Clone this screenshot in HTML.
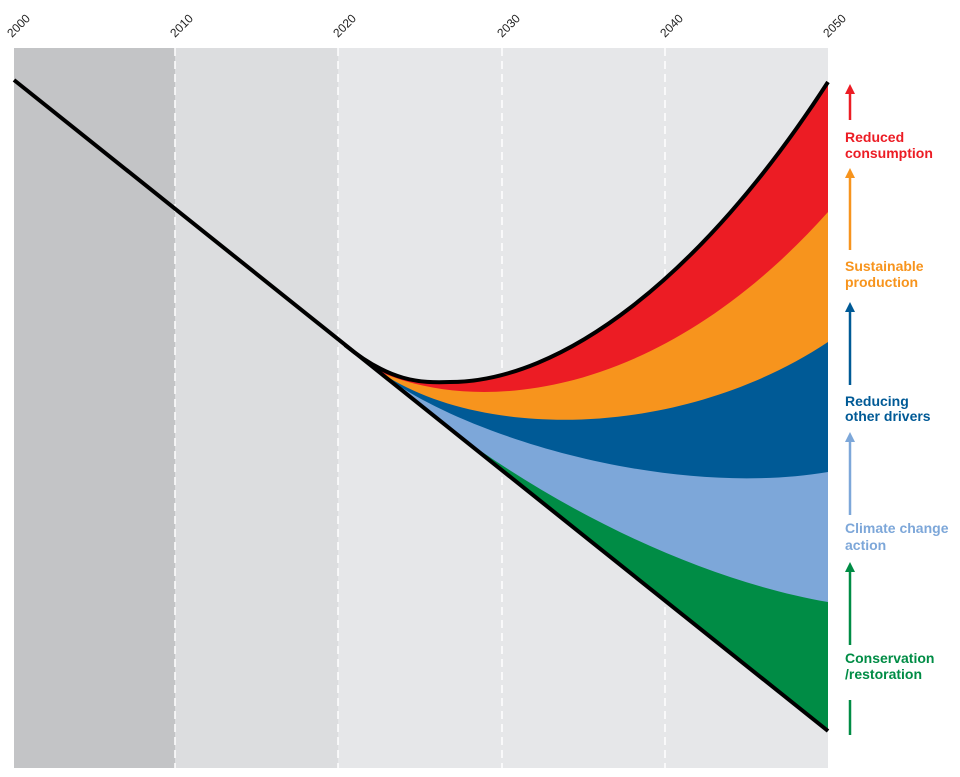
<!DOCTYPE html>
<html><head><style>body{margin:0;background:#fff}svg{display:block}</style></head><body>
<svg width="960" height="777" viewBox="0 0 960 777" font-family="Liberation Sans, sans-serif">
<defs><clipPath id="c"><path d="M345,345 C390,382 420,383 450,382 C560,382 700,280 828,82 L828,731 Z"/></clipPath></defs>
<rect x="14" y="48" width="161" height="720" fill="#c3c4c6"/>
<rect x="175" y="48" width="163" height="720" fill="#dcdddf"/>
<rect x="338" y="48" width="490" height="720" fill="#e6e7e9"/>
<g stroke="#fff" stroke-width="1.5" stroke-dasharray="8,5">
<line x1="175" y1="48" x2="175" y2="768"/><line x1="338" y1="48" x2="338" y2="768"/>
<line x1="502" y1="48" x2="502" y2="768"/><line x1="665" y1="48" x2="665" y2="768"/>
</g>
<g font-size="12" fill="#222">
<text transform="translate(12,38) rotate(-45)">2000</text>
<text transform="translate(175,38) rotate(-45)">2010</text>
<text transform="translate(338,38) rotate(-45)">2020</text>
<text transform="translate(502,38) rotate(-45)">2030</text>
<text transform="translate(665,38) rotate(-45)">2040</text>
<text transform="translate(828,38) rotate(-45)">2050</text>
</g>
<g clip-path="url(#c)">
<path d="M345,345 L828,0 L828,731 Z" fill="#ec1c24"/>
<path d="M380,372 C480,415 660,400 828,212 L828,731 Z" fill="#f7941d"/>
<path d="M380,372 C480,440 680,440 828,342 L828,731 Z" fill="#005a96"/>
<path d="M380,372 C450,430 660,500 828,472 L828,731 Z" fill="#7da7d9"/>
<path d="M457,434 C560,510 700,580 828,602 L828,731 L400,731 Z" fill="#008c45"/>
</g>
<line x1="14" y1="80" x2="828" y2="731" stroke="#000" stroke-width="4"/>
<path d="M345,345 C390,382 420,383 450,382 C560,382 700,280 828,82" fill="none" stroke="#000" stroke-width="4"/>
<g stroke-width="2.5">
<line x1="850" y1="120" x2="850" y2="92" stroke="#ec1c24"/><path d="M845,94 L850,84 L855,94Z" fill="#ec1c24"/>
<line x1="850" y1="250" x2="850" y2="176" stroke="#f7941d"/><path d="M845,178 L850,168 L855,178Z" fill="#f7941d"/>
<line x1="850" y1="385" x2="850" y2="310" stroke="#005a96"/><path d="M845,312 L850,302 L855,312Z" fill="#005a96"/>
<line x1="850" y1="515" x2="850" y2="440" stroke="#7da7d9"/><path d="M845,442 L850,432 L855,442Z" fill="#7da7d9"/>
<line x1="850" y1="645" x2="850" y2="570" stroke="#008c45"/><path d="M845,572 L850,562 L855,572Z" fill="#008c45"/>
<line x1="850" y1="700" x2="850" y2="735" stroke="#008c45"/>
</g>
<g font-size="14" font-weight="bold">
<text x="845" y="142" fill="#ec1c24">Reduced</text><text x="845" y="158" fill="#ec1c24">consumption</text>
<text x="845" y="271" fill="#f7941d">Sustainable</text><text x="845" y="287" fill="#f7941d">production</text>
<text x="845" y="406" fill="#005a96">Reducing</text><text x="845" y="421" fill="#005a96">other drivers</text>
<text x="845" y="533" fill="#7da7d9">Climate change</text><text x="845" y="550" fill="#7da7d9">action</text>
<text x="845" y="663" fill="#008c45">Conservation</text><text x="845" y="679" fill="#008c45">/restoration</text>
</g>
</svg>
</body></html>
